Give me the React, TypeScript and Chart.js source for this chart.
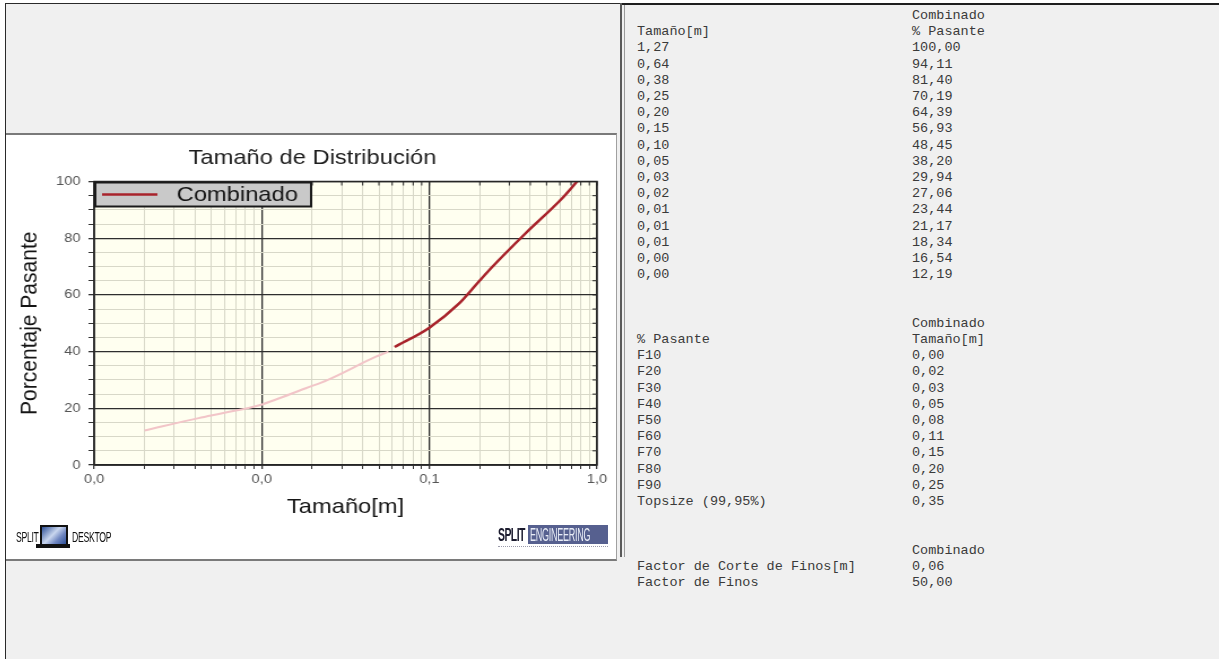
import React, { useEffect, useRef } from 'react';
import { Chart, registerables } from 'chart.js';

Chart.register(...registerables);

// ---------- data ----------
const seriesName = 'Combinado';
// measured part of the curve (above the fines cut-off)
const coarseSize = [0.062, 0.1, 0.15, 0.195, 0.24, 0.37, 0.62, 0.76];
const coarsePassing = [41.6, 48.45, 56.93, 64.39, 70.19, 81.4, 94.11, 100];
// fines part of the curve (below the fines cut-off)
const finesSize = [0.002, 0.0042, 0.0059, 0.0098, 0.0126, 0.0183, 0.0246, 0.048, 0.057];
const finesPassing = [12.19, 16.54, 18.34, 21.17, 23.44, 27.06, 29.94, 38.2, 40.0];

const xMajorTicks = [0.001, 0.01, 0.1, 1];
const xTickLabels = ['0,0', '0,0', '0,1', '1,0'];
const yMin = 0;
const yMax = 100;
const yStep = 5;
const yLabelStep = 20;

// text table
const tableSizes = ['1,27', '0,64', '0,38', '0,25', '0,20', '0,15', '0,10', '0,05', '0,03', '0,02', '0,01', '0,01', '0,01', '0,00', '0,00'];
const tablePassing = ['100,00', '94,11', '81,40', '70,19', '64,39', '56,93', '48,45', '38,20', '29,94', '27,06', '23,44', '21,17', '18,34', '16,54', '12,19'];
const fLabels = ['F10', 'F20', 'F30', 'F40', 'F50', 'F60', 'F70', 'F80', 'F90', 'Topsize (99,95%)'];
const fSizes = ['0,00', '0,02', '0,03', '0,05', '0,08', '0,11', '0,15', '0,20', '0,25', '0,35'];
const finesLabels = ['Factor de Corte de Finos[m]', 'Factor de Finos'];
const finesValues = ['0,06', '50,00'];

// ---------- layout ----------
const FONT = 'Arial, "Liberation Sans", Helvetica, sans-serif';
const MONO = '"Courier New", "Liberation Mono", monospace';
const SX = 1.13; // horizontal stretch of the screenshot
const CW = 541;
const CH = 424;

const isDecade = (v: number) => Math.abs(Math.log10(v) - Math.round(Math.log10(v))) < 1e-6;

const plotBg = {
  id: 'plotBg',
  beforeDraw(chart: any) {
    const { ctx, chartArea: a } = chart;
    ctx.save();
    ctx.fillStyle = '#fffff0';
    ctx.fillRect(a.left, a.top, a.right - a.left, a.bottom - a.top);
    ctx.restore();
  },
};

const frameAndLegend = {
  id: 'frameAndLegend',
  afterDatasetsDraw(chart: any) {
    const { ctx, chartArea: a, scales } = chart;
    ctx.save();
    ctx.strokeStyle = '#262626';
    ctx.lineWidth = 1.5;
    ctx.strokeRect(a.left, a.top, a.right - a.left, a.bottom - a.top);
    ctx.lineWidth = 1;
    scales.x.ticks.forEach((t: any) => {
      const px = scales.x.getPixelForValue(t.value);
      ctx.beginPath();
      ctx.moveTo(px, a.top);
      ctx.lineTo(px, a.top + 4);
      ctx.stroke();
    });
    scales.y.ticks.forEach((t: any) => {
      const py = scales.y.getPixelForValue(t.value);
      ctx.beginPath();
      ctx.moveTo(a.right, py);
      ctx.lineTo(a.right - 4, py);
      ctx.stroke();
    });
    // legend box
    const ds = chart.data.datasets[0];
    const lx = a.left + 1;
    const ly = a.top + 1;
    const lw = 191;
    const lh = 24;
    ctx.fillStyle = '#c9c9c9';
    ctx.fillRect(lx, ly, lw, lh);
    ctx.strokeStyle = '#1a1a1a';
    ctx.lineWidth = 2;
    ctx.strokeRect(lx, ly, lw, lh);
    ctx.strokeStyle = ds.borderColor;
    ctx.lineWidth = 2.5;
    ctx.beginPath();
    ctx.moveTo(lx + 6, ly + lh / 2);
    ctx.lineTo(lx + 55, ly + lh / 2);
    ctx.stroke();
    ctx.fillStyle = '#151515';
    ctx.font = `21px ${FONT}`;
    ctx.textBaseline = 'middle';
    ctx.textAlign = 'left';
    ctx.fillText(ds.label, lx + 72, ly + lh / 2 + 1);
    ctx.restore();
  },
};

function DistChart() {
  const ref = useRef<HTMLCanvasElement>(null);
  useEffect(() => {
    const canvas = ref.current as HTMLCanvasElement;
    const chart = new Chart(canvas, {
      type: 'line',
      data: {
        datasets: [
          {
            label: seriesName,
            data: coarseSize.map((x, i) => ({ x, y: coarsePassing[i] })),
            borderColor: '#a8232b',
            borderWidth: 2.5,
            pointRadius: 0,
            cubicInterpolationMode: 'monotone',
            fill: false,
          },
          {
            label: seriesName + ' (finos)',
            data: finesSize.map((x, i) => ({ x, y: finesPassing[i] })),
            borderColor: '#f2c5c8',
            borderWidth: 2,
            pointRadius: 0,
            cubicInterpolationMode: 'monotone',
            fill: false,
          },
        ],
      } as any,
      options: {
        animation: false,
        responsive: false,
        maintainAspectRatio: false,
        devicePixelRatio: 1,
        layout: { padding: { left: 19.4, right: 18, top: 0, bottom: 0 } },
        plugins: {
          legend: { display: false },
          tooltip: { enabled: false },
          title: {
            display: true,
            text: 'Tamaño de Distribución',
            color: '#1e1e1e',
            font: { size: 21, family: FONT, weight: 'normal' },
            padding: { top: 10.4, bottom: 10.9 },
          },
        },
        scales: {
          x: {
            type: 'logarithmic',
            min: xMajorTicks[0],
            max: xMajorTicks[xMajorTicks.length - 1],
            afterBuildTicks: (scale: any) => {
              const ticks: any[] = [];
              for (let d = 0; d < xMajorTicks.length - 1; d++) {
                for (let m = 1; m <= 9; m++) ticks.push({ value: xMajorTicks[d] * m });
              }
              ticks.push({ value: xMajorTicks[xMajorTicks.length - 1] });
              scale.ticks = ticks;
            },
            afterFit: (scale: any) => {
              scale.height = 94;
            },
            ticks: {
              autoSkip: false,
              maxRotation: 0,
              padding: 3,
              color: '#555',
              font: { size: 13, family: FONT },
              callback: (v: any) => {
                const i = xMajorTicks.findIndex((t) => Math.abs(t - Number(v)) / t < 1e-6);
                return i >= 0 ? xTickLabels[i] : '';
              },
            },
            grid: {
              color: (c: any) => (c.tick && isDecade(c.tick.value) ? '#2e2e2e' : '#d8d8c8'),
              lineWidth: (c: any) => (c.tick && isDecade(c.tick.value) ? 1.3 : 1),
              tickColor: '#333',
              tickLength: 4,
            },
            border: { color: '#262626', width: 1.5 },
            title: {
              display: true,
              text: 'Tamaño[m]',
              color: '#151515',
              font: { size: 21, family: FONT },
              padding: { top: 0, bottom: 39.4 },
            },
          },
          y: {
            type: 'linear',
            min: yMin,
            max: yMax,
            afterFit: (scale: any) => {
              scale.width = 58.6;
            },
            ticks: {
              stepSize: yStep,
              maxTicksLimit: 50,
              autoSkip: false,
              padding: 7,
              color: '#555',
              font: { size: 13, family: FONT },
              callback: (v: any) => (Number(v) % yLabelStep === 0 ? String(v) : ''),
            },
            grid: {
              color: (c: any) => (c.tick && c.tick.value % yLabelStep === 0 ? '#2e2e2e' : '#d8d8c8'),
              lineWidth: (c: any) => (c.tick && c.tick.value % yLabelStep === 0 ? 1.3 : 1),
              tickColor: '#333',
              tickLength: 5,
            },
            border: { color: '#262626', width: 1.5 },
            title: {
              display: true,
              text: 'Porcentaje Pasante',
              color: '#151515',
              font: { size: 21, family: FONT },
              padding: { top: -10.8, bottom: 0 },
            },
          },
        },
      } as any,
      plugins: [plotBg, frameAndLegend],
    });
    return () => chart.destroy();
  }, []);
  return <canvas ref={ref} width={CW} height={CH} style={{ width: CW, height: CH, display: 'block' }} />;
}

function SplitDesktopLogo() {
  return (
    <div style={{ position: 'absolute', left: 16, top: 525, height: 24 }}>
      <span style={{ position: 'absolute', left: 0, top: 4, fontFamily: FONT, fontSize: 14, color: '#111', transform: 'scaleX(0.62)', transformOrigin: '0 0', whiteSpace: 'nowrap', letterSpacing: -0.5 }}>SPLIT</span>
      <div style={{ position: 'absolute', left: 24, top: 0, width: 24, height: 17, border: '2px solid #111', background: 'linear-gradient(135deg, #2d4f96 0%, #c9d6ee 45%, #6f86c0 70%, #2d4f96 100%)' }} />
      <div style={{ position: 'absolute', left: 20, top: 19, width: 34, height: 4, background: '#111' }} />
      <span style={{ position: 'absolute', left: 56, top: 4, fontFamily: FONT, fontSize: 14, color: '#111', transform: 'scaleX(0.62)', transformOrigin: '0 0', whiteSpace: 'nowrap', letterSpacing: -0.5 }}>DESKTOP</span>
    </div>
  );
}

function SplitEngineeringLogo() {
  return (
    <div style={{ position: 'absolute', left: 498, top: 524, height: 26 }}>
      <span style={{ position: 'absolute', left: 0, top: 0, fontFamily: FONT, fontSize: 19, fontWeight: 'bold', color: '#1b1b2e', transform: 'scaleX(0.55)', transformOrigin: '0 0', whiteSpace: 'nowrap', letterSpacing: -1 }}>SPLIT</span>
      <div style={{ position: 'absolute', left: 30, top: 1, width: 80, height: 19, background: '#56608f', overflow: 'hidden' }}>
        <span style={{ position: 'absolute', left: 2, top: 0, fontFamily: FONT, fontSize: 18, color: '#e8ecf6', transform: 'scaleX(0.5)', transformOrigin: '0 0', whiteSpace: 'nowrap', letterSpacing: -0.5 }}>ENGINEERING</span>
      </div>
      <div style={{ position: 'absolute', left: 0, top: 22, width: 110, height: 2, borderTop: '1px dotted #9a9aaa' }} />
    </div>
  );
}

export default function App() {
  const rows: [string, string][] = [
    ['', 'Combinado'],
    ['Tamaño[m]', '% Pasante'],
    ...tableSizes.map((s, i) => [s, tablePassing[i]] as [string, string]),
    ['', ''],
    ['', ''],
    ['', 'Combinado'],
    ['% Pasante', 'Tamaño[m]'],
    ...fLabels.map((l, i) => [l, fSizes[i]] as [string, string]),
    ['', ''],
    ['', ''],
    ['', 'Combinado'],
    ...finesLabels.map((l, i) => [l, finesValues[i]] as [string, string]),
  ];

  return (
    <div style={{ position: 'absolute', left: 0, top: 0, width: 1219, height: 659, overflow: 'hidden', background: '#ffffff' }}>
      {/* left window */}
      <div style={{ position: 'absolute', left: 5, top: 3, width: 620, height: 670, background: '#f0f0f0', borderLeft: '1px solid #2a2a2a', borderTop: '1px solid #2a2a2a' }} />
      {/* white chart panel */}
      <div style={{ position: 'absolute', left: 6, top: 133, width: 610, height: 424, background: '#ffffff', borderTop: '2px solid #7a7a7a', borderBottom: '2px solid #7a7a7a', borderRight: '1px solid #a0a0a0' }} />
      <div style={{ position: 'absolute', left: 6, top: 135, width: CW, height: CH, transform: `scaleX(${SX})`, transformOrigin: '0 0' }}>
        <DistChart />
      </div>
      <SplitDesktopLogo />
      <SplitEngineeringLogo />

      {/* right window */}
      <div style={{ position: 'absolute', left: 620, top: 3, width: 610, height: 670, background: '#f0f0f0', borderTop: '2px solid #1e1e1e' }} />
      <div style={{ position: 'absolute', left: 620, top: 3, width: 2, height: 554, background: '#5a5a5a' }} />
      <div style={{ position: 'absolute', left: 624, top: 5, width: 1, height: 552, background: '#9a9a9a' }} />
      {rows.map((r, i) => (
        <React.Fragment key={i}>
          <div style={{ position: 'absolute', left: 637, top: 16 + i * 16.2 - 8, height: 16, lineHeight: '16px', fontFamily: MONO, fontSize: 13.5, color: '#3a3a3a', whiteSpace: 'pre' }}>{r[0]}</div>
          <div style={{ position: 'absolute', left: 912, top: 16 + i * 16.2 - 8, height: 16, lineHeight: '16px', fontFamily: MONO, fontSize: 13.5, color: '#3a3a3a', whiteSpace: 'pre' }}>{r[1]}</div>
        </React.Fragment>
      ))}
    </div>
  );
}
